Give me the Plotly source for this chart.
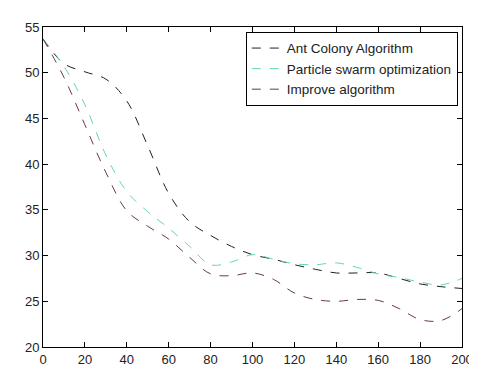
import plotly.graph_objects as go

x = [0, 10, 20, 30, 40, 50, 60, 70, 80, 90, 100, 110, 120, 130, 140, 150, 160, 170, 180, 190, 200]
ant = [53.7, 51.0, 50.1, 49.3, 46.9, 42.0, 36.8, 33.7, 32.2, 31.0, 30.1, 29.6, 29.0, 28.5, 28.1, 28.1, 28.1, 27.5, 26.9, 26.6, 26.4]
pso = [53.7, 50.7, 46.5, 41.0, 37.0, 34.8, 33.0, 31.0, 29.0, 29.3, 30.1, 29.6, 29.1, 29.0, 29.2, 28.7, 28.0, 27.6, 27.1, 26.8, 27.5]
imp = [53.7, 49.5, 44.3, 39.1, 34.9, 33.2, 31.8, 29.8, 28.0, 27.8, 28.1, 27.4, 25.9, 25.2, 25.0, 25.2, 25.1, 24.2, 23.0, 22.9, 24.2]
names = ["Ant Colony Algorithm", "Particle swarm optimization", "Improve algorithm"]
colors = ["#202020", "#5fd6bd", "#6a3a3a"]

fig = go.Figure()
for y, n, c in zip([ant, pso, imp], names, colors):
    fig.add_trace(go.Scatter(x=x, y=y, name=n, mode="lines",
                             line=dict(color=c, width=1, dash="dash", shape="spline", smoothing=1.0)))

axis = dict(showgrid=False, zeroline=False, showline=True, linecolor="black", linewidth=1,
            mirror="ticks", ticks="inside", ticklen=5, tickcolor="black",
            tickfont=dict(family="Liberation Sans, Arial", size=13, color="#222"))
fig.update_layout(
    width=477, height=371,
    margin=dict(l=35, r=13, t=14, b=21),
    paper_bgcolor="white", plot_bgcolor="white",
    xaxis=dict(range=[0, 200], dtick=20, **axis),
    yaxis=dict(range=[20, 55], dtick=5, **axis),
    legend=dict(x=0.99, y=0.985, xanchor="right", yanchor="top",
                bordercolor="black", borderwidth=1, bgcolor="white",
                font=dict(family="Liberation Sans, Arial", size=13.5, color="#222"),
                tracegroupgap=0, itemwidth=30),
    showlegend=True,
)
fig.write_html("out.html")
